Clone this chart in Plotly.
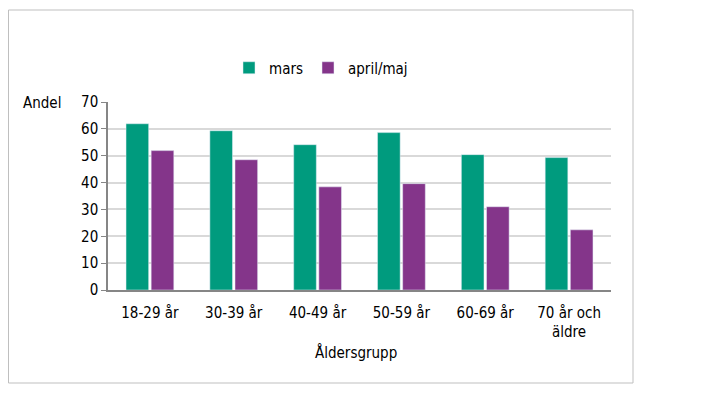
import plotly.graph_objects as go

categories = ["18-29 år", "30-39 år", "40-49 år", "50-59 år", "60-69 år", "70 år och<br>äldre"]
mars = [61.9, 59.3, 54.1, 58.6, 50.4, 49.3]
april_maj = [51.9, 48.5, 38.4, 39.6, 31.0, 22.4]
y_ticks = [0, 10, 20, 30, 40, 50, 60, 70]

FONT = "DejaVu Sans Condensed, Liberation Sans, sans-serif"

fig = go.Figure()
fig.add_trace(go.Bar(x=categories, y=mars, name="mars", marker_color="#009B7E"))
fig.add_trace(go.Bar(x=categories, y=april_maj, name="april/maj", marker_color="#84358A"))

# page body has an 8px margin; work in figure coordinates
W, H = 720, 386
L, R, T, B = 100, 117, 94, 104
pw = W - L - R
ph = H - T - B

def px(xp):
    return (xp - L) / pw

def py(yp):
    return (H - B - yp) / ph

fig.update_layout(
    width=W, height=H,
    margin=dict(l=L, r=R, t=T, b=B, pad=0),
    paper_bgcolor="white", plot_bgcolor="white",
    font=dict(family=FONT, size=15, color="#000000"),
    barmode="group", bargap=0.4, bargroupgap=0.1,
    showlegend=True,
    legend=dict(orientation="h", x=px(313), xanchor="center", y=py(60), yanchor="middle",
                font=dict(size=15), bgcolor="rgba(0,0,0,0)", traceorder="normal",
                itemwidth=30),
    xaxis=dict(showline=True, linecolor="#868686", linewidth=1.5, ticks="", showgrid=False,
               tickfont=dict(size=15), automargin=False, ticklabelstandoff=8),
    yaxis=dict(range=[0, 70], tickvals=y_ticks, showline=True, linecolor="#868686", linewidth=1.5,
               ticks="outside", ticklen=5, tickcolor="#868686", showgrid=True, gridcolor="#D9D9D9",
               gridwidth=1.5, zeroline=False, tickfont=dict(size=15), automargin=False),
    shapes=[dict(type="rect", xref="paper", yref="paper",
                 x0=px(0.5), x1=px(625), y0=py(375), y1=py(2),
                 line=dict(color="#BFBFBF", width=1), fillcolor="rgba(0,0,0,0)", layer="below")],
    annotations=[
        dict(text="Andel", xref="paper", yref="paper", x=px(55), y=py(95), xanchor="right",
             yanchor="middle", showarrow=False, font=dict(size=15)),
        dict(text="Åldersgrupp", xref="paper", yref="paper", x=px(348), y=py(344), xanchor="center",
             yanchor="middle", showarrow=False, font=dict(size=15)),
    ],
)

fig.write_html("out.html")
